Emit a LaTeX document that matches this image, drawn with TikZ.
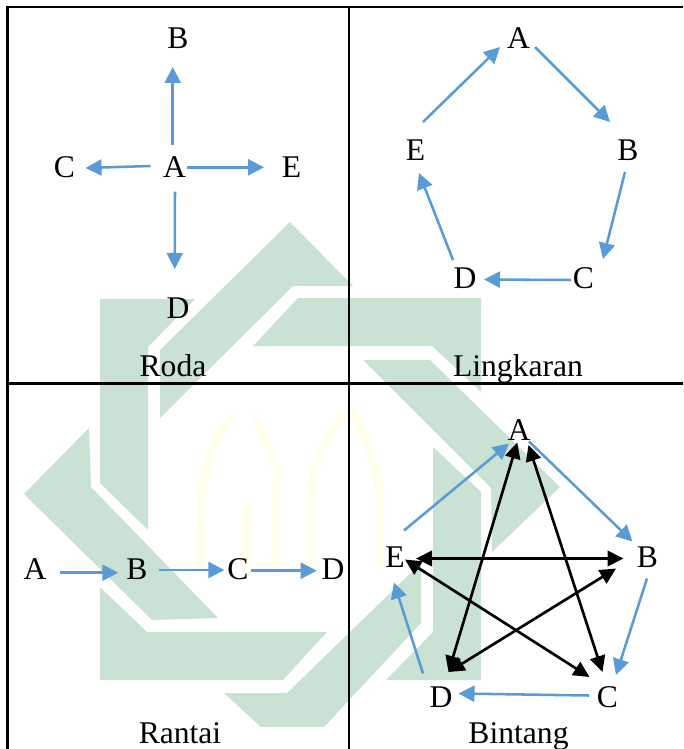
\documentclass[tikz,border=0pt]{standalone}
\usepackage{fontspec}
\setmainfont{Liberation Serif}
\usetikzlibrary{arrows.meta}
\definecolor{wmgreen}{HTML}{CAE2D4}
\definecolor{wmyellow}{HTML}{FFFFEE}
\definecolor{flowblue}{HTML}{5B9BD5}
\tikzset{
  wm/.style={fill=wmgreen,draw=none},
  wmy/.style={draw=wmyellow,line width=7pt,line cap=round,line join=round},
  grid/.style={draw=black,line width=1.7pt},
  letter/.style={inner sep=0pt,outer sep=0pt,font=\fontsize{23.7pt}{26pt}\selectfont,text height=15.7pt,text depth=0pt,anchor=center},
  caption/.style={inner sep=0pt,outer sep=0pt,font=\fontsize{23.7pt}{26pt}\selectfont,anchor=base},
  flow/.style={draw=flowblue,line width=1.9pt,-{Triangle[length=12pt,width=12pt]}},
  star/.style={draw=black,line width=2pt,{Triangle[length=12pt,width=11.5pt]}-{Triangle[length=12pt,width=11.5pt]}}
}
\newcommand{\conn}[5]{\draw[#1] ([shift={#3}]#2.center) -- ([shift={#5}]#4.center);}
\begin{document}
\begin{tikzpicture}[x=0.75pt,y=-0.75pt]
\useasboundingbox (0,0) rectangle (683,749);
% watermark
\fill[wm] (100,299)--(195,299)--(148,347)--(148,530)--(100,483)--cycle;
\fill[wm] (160,418)--(160,350)--(290,222)--(353,286)--(293,286)--cycle;
\fill[wm] (298,298)--(481,298)--(481,392)--(432,346)--(253,346)--cycle;
\fill[wm] (363,360)--(430,360)--(560,487)--(492,552)--(491,488)--cycle;
\fill[wm] (433,447)--(481,492)--(481,680)--(386,680)--(433,632)--cycle;
\fill[wm] (224,693)--(287,693)--(421,563)--(421,623)--(324,727)--(261,727)--cycle;
\fill[wm] (100,587)--(147,632)--(327,632)--(283,680)--(100,680)--cycle;
\fill[wm] (89,428)--(24,494)--(152,620)--(218,618)--(91,487)--cycle;
\draw[wmy] (200,566)--(202,487)..controls (208,455) and (220,435)..(231,417);
\draw[wmy] (257,420)--(277,468);
\draw[wmy] (277,476)--(277,566);
\draw[wmy] (246,505)--(246,566);
\draw[wmy] (309,566)--(309,498)..controls (315,455) and (332,425)..(348,410)..controls (365,430) and (378,465)..(380,498)--(380,566);
% grid
\draw[grid] (7.5,749)--(7.5,7)--(683,7);
\draw[grid] (349,7)--(349,749);
\draw[grid] (7.5,383.5)--(683,383.5);
% Roda
\node[letter] (rA) at (174.5,167) {A};
\node[letter] (rB) at (178,38) {B};
\node[letter] (rC) at (64.5,167) {C};
\node[letter] (rD) at (178,308.5) {D};
\node[letter] (rE) at (291.5,167) {E};
\node[caption] (rT) at (173,376) {Roda};
\conn{flow}{rA}{(-1.8,-22.5)}{rB}{(-5.3,29)}
\conn{flow}{rA}{(-24,-1)}{rC}{(21,1)}
\conn{flow}{rA}{(12.2,.3)}{rE}{(-27.5,.3)}
\conn{flow}{rA}{(.5,24.7)}{rD}{(-3.3,-39.5)}
% Lingkaran
\node[letter] (lA) at (518.5,38.5) {A};
\node[letter] (lB) at (628,150) {B};
\node[letter] (lC) at (583.5,278) {C};
\node[letter] (lD) at (465,278) {D};
\node[letter] (lE) at (415.5,150) {E};
\node[caption] (lT) at (518,376) {Lingkaran};
\conn{flow}{lE}{(7.5,-28)}{lA}{(-18.5,8.5)}
\conn{flow}{lA}{(16.5,8.5)}{lB}{(-18,-28)}
\conn{flow}{lB}{(-3,22)}{lC}{(19.5,-19)}
\conn{flow}{lC}{(-12.5,2)}{lD}{(19,1.5)}
\conn{flow}{lD}{(-12,-18)}{lE}{(3.5,23)}
% Rantai
\node[letter] (tA) at (35,569.5) {A};
\node[letter] (tB) at (137,569.5) {B};
\node[letter] (tC) at (238,569.5) {C};
\node[letter] (tD) at (333,569.5) {D};
\node[caption] (tT) at (180,743) {Rantai};
\conn{flow}{tA}{(25,3.2)}{tB}{(-18.7,3.2)}
\conn{flow}{tB}{(22.3,.5)}{tC}{(-13.7,.5)}
\conn{flow}{tC}{(13,1.2)}{tD}{(-16.3,1.2)}
% Bintang
\node[letter] (bA) at (519,430.5) {A};
\node[letter] (bB) at (647.5,557.5) {B};
\node[letter] (bC) at (607.5,697.5) {C};
\node[letter] (bD) at (441,697.5) {D};
\node[letter] (bE) at (395,557.5) {E};
\node[caption] (bT) at (518.5,743) {Bintang};
\conn{flow}{bE}{(9,-27)}{bA}{(-10,13)}
\conn{flow}{bA}{(10,11)}{bB}{(-15,-16)}
\conn{flow}{bB}{(-.5,21)}{bC}{(8.5,-22.5)}
\conn{flow}{bC}{(-18.5,-2)}{bD}{(17.5,-4)}
\conn{flow}{bD}{(-18,-24)}{bE}{(-1,25)}
\conn{star}{bA}{(-1.7,12)}{bD}{(7.5,-25.5)}
\conn{star}{bA}{(9.5,14.5)}{bC}{(-5,-25.5)}
\conn{star}{bE}{(21,1)}{bB}{(-24,1)}
\conn{star}{bE}{(10,2)}{bC}{(-18,-20.5)}
\conn{star}{bD}{(7.5,-25.5)}{bB}{(-31.5,11)}
\end{tikzpicture}
\end{document}
